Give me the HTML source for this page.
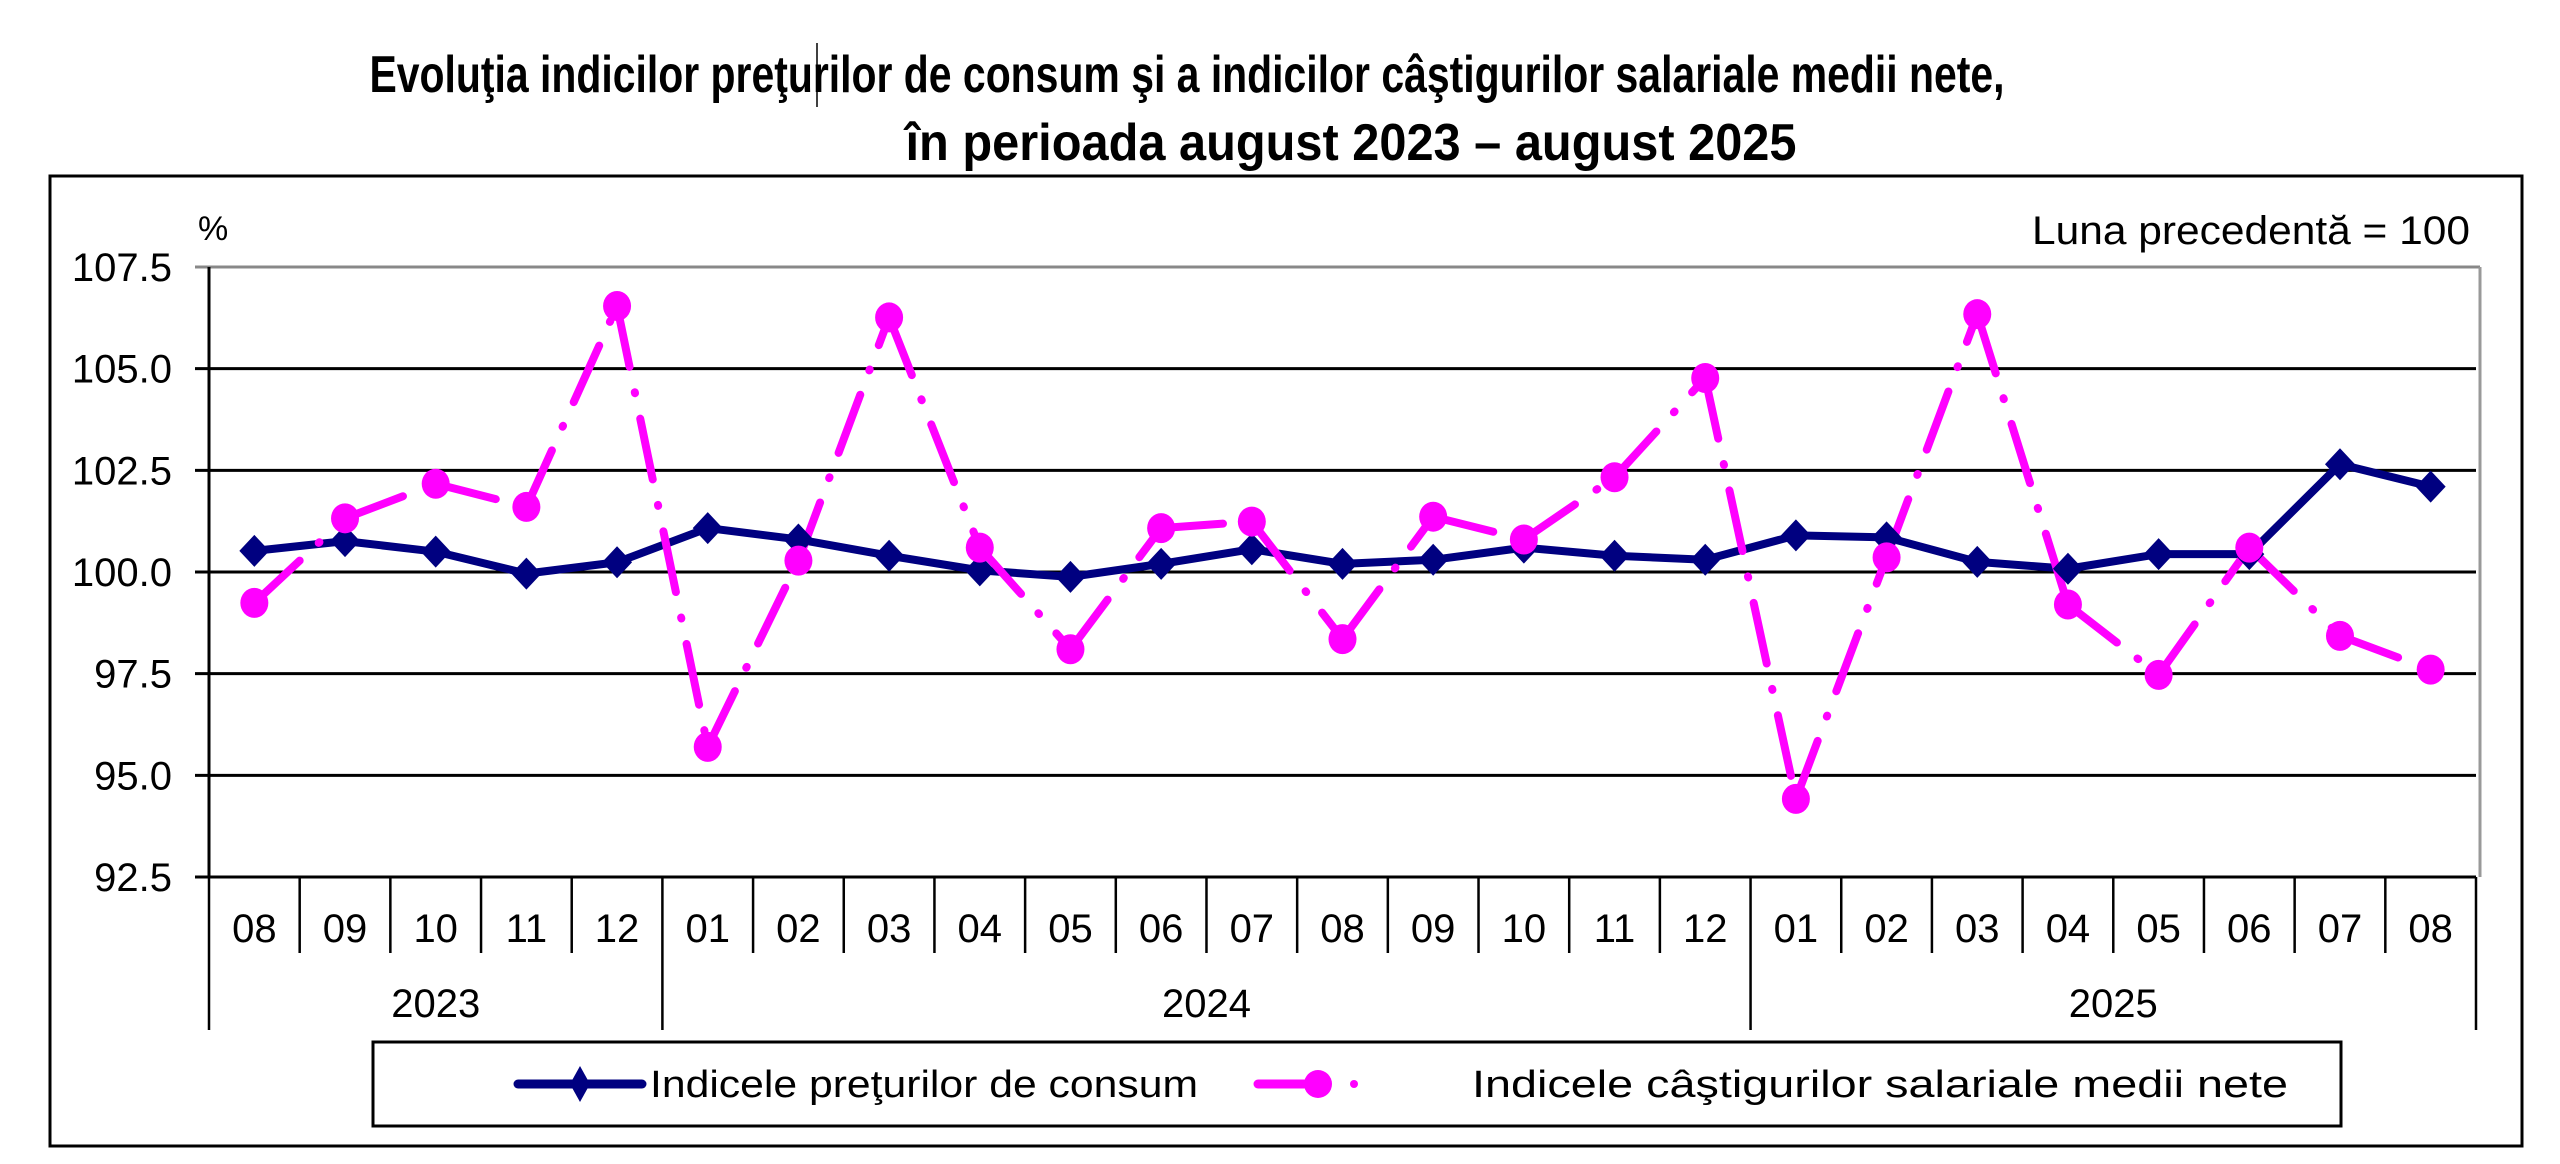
<!DOCTYPE html>
<html><head><meta charset="utf-8"><style>
html,body{margin:0;padding:0;background:#fff;}
svg{display:block;}
</style></head><body>
<svg id="chart" width="2560" height="1164" viewBox="0 0 2560 1164" xmlns="http://www.w3.org/2000/svg" font-family="'Liberation Sans', sans-serif">
<rect width="2560" height="1164" fill="#fff"/>
<text x="1187" y="92" font-size="52" font-weight="bold" text-anchor="middle" textLength="1635" lengthAdjust="spacingAndGlyphs">Evoluţia indicilor preţurilor de consum şi a indicilor câştigurilor salariale medii nete,</text>
<text x="1351" y="160" font-size="52" font-weight="bold" text-anchor="middle" textLength="891" lengthAdjust="spacingAndGlyphs">în perioada august 2023 – august 2025</text>
<line x1="817" y1="43" x2="817" y2="107" stroke="#000" stroke-width="1.5"/>
<rect x="50" y="176" width="2472" height="970" fill="none" stroke="#000" stroke-width="3"/>
<text x="198" y="240" font-size="34">%</text>
<text x="2470" y="244" font-size="40" text-anchor="end" textLength="438" lengthAdjust="spacingAndGlyphs">Luna precedentă = 100</text>
<g id="grid"></g>
<g id="axes"></g>
<g id="series"></g>
<rect x="373" y="1042" width="1968" height="84" fill="none" stroke="#000" stroke-width="3"/>
<line x1="518" y1="1084" x2="642" y2="1084" stroke="#000080" stroke-width="9" stroke-linecap="round"/>
<polygon points="580,1066 590,1084 580,1102 570,1084" fill="#000080"/>
<text x="650" y="1097" font-size="38" textLength="548" lengthAdjust="spacingAndGlyphs">Indicele preţurilor de consum</text>
<line x1="1258" y1="1084" x2="1316" y2="1084" stroke="#ff00ff" stroke-width="9" stroke-linecap="round"/>
<circle cx="1318" cy="1084" r="14" fill="#ff00ff"/>
<circle cx="1354" cy="1084" r="4" fill="#ff00ff"/>
<text x="1472" y="1097" font-size="38" textLength="816" lengthAdjust="spacingAndGlyphs">Indicele câştigurilor salariale medii nete</text>
<text x="100" y="1196" font-size="40" fill="#0000cc">Sursa: Institutul Naţional de Statistică</text>
</svg>
<script>
const months = ["08","09","10","11","12","01","02","03","04","05","06","07","08","09","10","11","12","01","02","03","04","05","06","07","08"];
const years = ["2023","2024","2025"];
const yearSpans = [5, 12, 8];
const cpiValues = [100.52,100.76,100.5,99.96,100.24,101.08,100.8,100.4,100.04,99.88,100.2,100.56,100.2,100.3,100.6,100.4,100.3,100.9,100.85,100.25,100.08,100.44,100.44,102.65,102.1];
const wageValues = [99.24,101.32,102.17,101.6,106.54,95.7,100.28,106.26,100.6,98.1,101.08,101.24,98.35,101.36,100.8,102.33,104.77,94.42,100.36,106.34,99.2,97.47,100.6,98.43,97.6];
const yTicks = [92.5,95.0,97.5,100.0,102.5,105.0,107.5];

const NS = "http://www.w3.org/2000/svg";
const PL = 209, PR = 2476, PT = 267, PB = 877;
const yMin = 92.5, yMax = 107.5;
const bw = (PR - PL) / months.length;
function xPos(i){ return PL + (i + 0.5) * bw; }
function yPos(v){ return PB - (v - yMin) / (yMax - yMin) * (PB - PT); }
function mk(tag, attrs, parent){
  const e = document.createElementNS(NS, tag);
  for (const k in attrs) e.setAttribute(k, attrs[k]);
  parent.appendChild(e);
  return e;
}
const grid = document.getElementById('grid');
const axes = document.getElementById('axes');
const series = document.getElementById('series');

yTicks.forEach(t => {
  const y = yPos(t);
  const top = t === yMax;
  const gl = mk('line', {x1: 195, y1: y, x2: top ? PR + 4 : PR, y2: y, stroke: top ? '#888' : '#000', 'stroke-width': 3}, grid);
  
  
  const tl = mk('text', {x: 172, y: y + 14, 'font-size': 40, 'text-anchor': 'end'}, axes);
  tl.textContent = t.toFixed(1);
  
  
});
const rb = mk('line', {x1: PR + 4, y1: PT, x2: PR + 4, y2: PB, stroke: '#999', 'stroke-width': 3}, grid);


const ya = mk('line', {x1: PL, y1: PT, x2: PL, y2: PB, stroke: '#000', 'stroke-width': 3}, axes);



for (let i = 0; i <= months.length; i++) {
  const x = PL + i * bw;
  const d = mk('line', {x1: x, y1: PB, x2: x, y2: 953, stroke: '#000', 'stroke-width': 2.5}, axes);
  
  
}
months.forEach((m, i) => {
  const t = mk('text', {x: xPos(i), y: 942, 'font-size': 40, 'text-anchor': 'middle'}, axes);
  t.textContent = m;
  
  
});
let start = 0;
const ydiv0 = mk('line', {x1: PL, y1: 953, x2: PL, y2: 1030, stroke: '#000', 'stroke-width': 2.5}, axes);


years.forEach((yr, k) => {
  const end = start + yearSpans[k];
  const xe = PL + end * bw;
  const dv = mk('line', {x1: xe, y1: 953, x2: xe, y2: 1030, stroke: '#000', 'stroke-width': 2.5}, axes);
  
  
  const t = mk('text', {x: PL + (start + end) / 2 * bw, y: 1017, 'font-size': 40, 'text-anchor': 'middle'}, axes);
  t.textContent = yr;
  
  
  start = end;
});

const cpiPts = cpiValues.map((v, i) => xPos(i) + ',' + yPos(v)).join(' ');
const cpiLine = mk('polyline', {points: cpiPts, fill: 'none', stroke: '#000080', 'stroke-width': 8, 'stroke-linejoin': 'round'}, series);



for (let i = 0; i < wageValues.length - 1; i++) {
  const seg = mk('line', {x1: xPos(i), y1: yPos(wageValues[i]), x2: xPos(i + 1), y2: yPos(wageValues[i + 1]), stroke: '#ff00ff', 'stroke-width': 8, 'stroke-linecap': 'round', 'stroke-dasharray': '62 26 1 26'}, series);
  
  
}
cpiValues.forEach((v, i) => {
  const x = xPos(i), y = yPos(v);
  const p = mk('polygon', {points: `${x},${y-16} ${x+15},${y} ${x},${y+16} ${x-15},${y}`, fill: '#000080'}, series);
  
  
});
wageValues.forEach((v, i) => {
  const c = mk('ellipse', {cx: xPos(i), cy: yPos(v), rx: 14, ry: 15, fill: '#ff00ff'}, series);
  
  
});
</script>
</body></html>
